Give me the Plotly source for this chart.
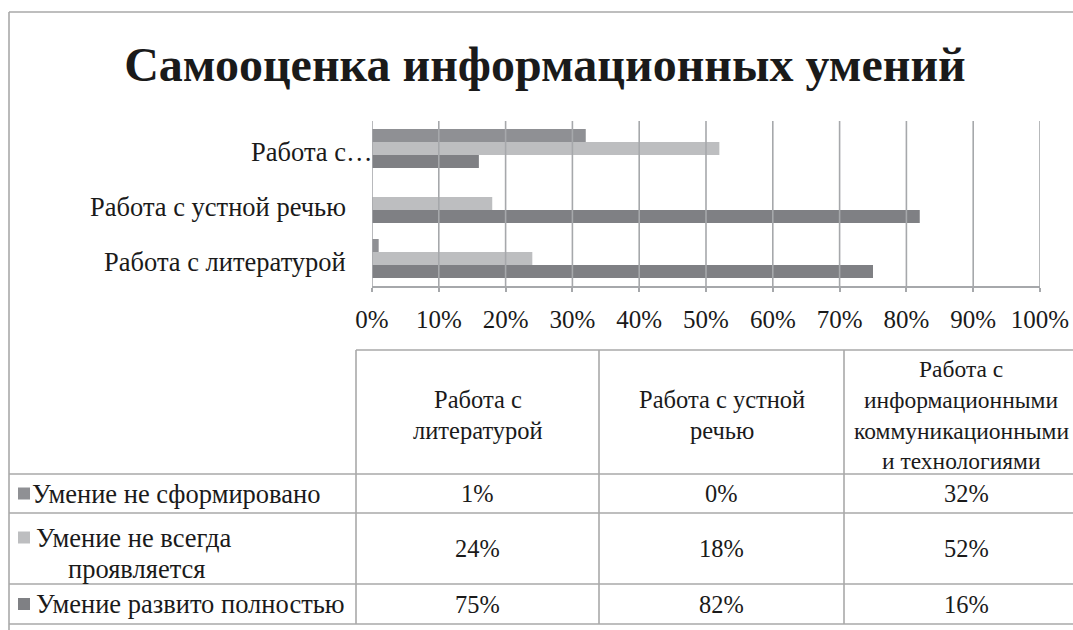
import plotly.graph_objects as go

W, H = 1073, 630

# ---- data ----
categories = ["Работа с литературой", "Работа с устной речью",
              "Работа с информационными коммуникационными и технологиями"]
axis_labels = ["Работа с литературой", "Работа с устной речью", "Работа с…"]
header_labels = [["Работа с", "литературой"], ["Работа с устной", "речью"],
                 ["Работа с", "информационными", "коммуникационными", "и технологиями"]]
series_names = ["Умение не сформировано", "Умение не всегда проявляется", "Умение развито полностью"]
not_formed = [1, 0, 32]
not_always = [24, 18, 52]
fully = [75, 82, 16]
x_ticks = [0, 10, 20, 30, 40, 50, 60, 70, 80, 90, 100]

colors = {"Умение не сформировано": "#8f9094",
          "Умение не всегда проявляется": "#bdbec0",
          "Умение развито полностью": "#7f8084"}
series_values = {"Умение не сформировано": not_formed,
                 "Умение не всегда проявляется": not_always,
                 "Умение развито полностью": fully}

FONT = "Liberation Serif"
GRID = "#a6a8ab"
LINE = "#a9a9a9"
TXT = "#1a1a1a"
LABEL_SIZE = 26.5
HDR_SIZE = 24.5
NUM_SIZE = 24.4
TICK_SIZE = 25


def X(px):
    return px / W


def Y(py):
    return 1 - py / H


fig = go.Figure()
# plotly stacks grouped horizontal bars bottom-up in trace order
for name in ["Умение развито полностью", "Умение не всегда проявляется", "Умение не сформировано"]:
    fig.add_trace(go.Bar(y=categories, x=series_values[name], orientation="h", name=name,
                         marker=dict(color=colors[name], line=dict(width=0)),
                         showlegend=False))

shapes = []
annotations = []

# vertical gridlines drawn above bars (as in the reference)
for v in x_ticks:
    shapes.append(dict(type="line", xref="x", yref="y domain", x0=v, x1=v, y0=0, y1=1,
                       line=dict(color=GRID, width=1.6), layer="above"))

# category labels
for i, lab in enumerate(axis_labels):
    xr = 374 if lab.endswith("…") else 348
    annotations.append(dict(xref="paper", yref="y", x=X(xr), y=categories[i], text=lab,
                            xanchor="right", yanchor="middle", showarrow=False,
                            font=dict(family=FONT, size=LABEL_SIZE, color=TXT), yshift=-3))

# outer chart border
shapes.append(dict(type="line", xref="paper", yref="paper", x0=X(9), x1=X(9), y0=Y(12), y1=0,
                   line=dict(color=LINE, width=1.6)))
shapes.append(dict(type="line", xref="paper", yref="paper", x0=X(9), x1=1, y0=Y(12), y1=Y(12),
                   line=dict(color=LINE, width=1.6)))

# data table grid
col_edges = [356, 599, 844, 1089]
row_edges = [350, 474, 513, 584, 624]
shapes.append(dict(type="line", xref="paper", yref="paper", x0=X(356), x1=1,
                   y0=Y(350), y1=Y(350), line=dict(color=LINE, width=1.6)))
for ry in row_edges[1:]:
    shapes.append(dict(type="line", xref="paper", yref="paper", x0=X(9), x1=1,
                       y0=Y(ry), y1=Y(ry), line=dict(color=LINE, width=1.6)))
for cx in col_edges:
    if cx < W:
        shapes.append(dict(type="line", xref="paper", yref="paper", x0=X(cx), x1=X(cx),
                           y0=Y(350), y1=Y(624), line=dict(color=LINE, width=1.6)))

# table headers
hdr_mid = (350 + 474) / 2 + 3
line_h = 31
for j, lines in enumerate(header_labels):
    cx = (col_edges[j] + col_edges[j + 1]) / 2
    if j == 2:
        cx = 961
    n = len(lines)
    for k, t in enumerate(lines):
        cy = hdr_mid + (k - (n - 1) / 2) * line_h
        annotations.append(dict(xref="paper", yref="paper", x=X(cx), y=Y(cy), text=t,
                                xanchor="center", yanchor="middle", showarrow=False,
                                font=dict(family=FONT, size=HDR_SIZE if j < 2 else 23.5, color=TXT)))

# table rows
row_series = ["Умение не сформировано", "Умение не всегда проявляется", "Умение развито полностью"]
for r, name in enumerate(row_series):
    top, bot = row_edges[r + 1], row_edges[r + 2]
    cy = (top + bot) / 2
    vals = series_values[name]
    for j, v in enumerate(vals):
        cx = (col_edges[j] + col_edges[j + 1]) / 2
        annotations.append(dict(xref="paper", yref="paper", x=X(cx), y=Y(cy), text=f"{v}%",
                                xanchor="center", yanchor="middle", showarrow=False,
                                font=dict(family=FONT, size=NUM_SIZE, color=TXT)))
    if r == 1:
        key_cy = cy - 11
        shapes.append(dict(type="rect", xref="paper", yref="paper", x0=X(18), x1=X(30),
                           y0=Y(key_cy - 6), y1=Y(key_cy + 6), fillcolor=colors[name],
                           line=dict(width=0)))
        annotations.append(dict(xref="paper", yref="paper", x=X(34), y=Y(key_cy), text="Умение не всегда",
                                xanchor="left", yanchor="middle", showarrow=False,
                                font=dict(family=FONT, size=LABEL_SIZE, color=TXT)))
        annotations.append(dict(xref="paper", yref="paper", x=X(66), y=Y(cy + 20), text="проявляется",
                                xanchor="left", yanchor="middle", showarrow=False,
                                font=dict(family=FONT, size=LABEL_SIZE, color=TXT)))
    else:
        shapes.append(dict(type="rect", xref="paper", yref="paper", x0=X(18), x1=X(30),
                           y0=Y(cy - 6), y1=Y(cy + 6), fillcolor=colors[name],
                           line=dict(width=0)))
        annotations.append(dict(xref="paper", yref="paper", x=X(30 if r == 0 else 34), y=Y(cy),
                                text=name, xanchor="left", yanchor="middle", showarrow=False,
                                font=dict(family=FONT, size=LABEL_SIZE, color=TXT)))

fig.update_layout(
    width=W, height=H,
    margin=dict(l=0, r=0, t=0, b=0, autoexpand=False),
    paper_bgcolor="white", plot_bgcolor="white",
    barmode="group", bargap=0.29, bargroupgap=0,
    title=dict(text="<b>Самооценка информационных умений</b>", x=X(545), y=Y(64),
               xanchor="center", yanchor="middle",
               font=dict(family=FONT, size=48, color=TXT)),
    xaxis=dict(domain=[X(372), X(1040)], range=[0, 100], tickvals=x_ticks,
               ticktext=[f"{v}%" for v in x_ticks], showgrid=False, zeroline=False,
               showline=True, linecolor=GRID, linewidth=1.6,
               ticks="outside", ticklen=4, tickcolor=GRID, tickwidth=1.6,
               ticklabelstandoff=6, automargin=False,
               tickfont=dict(family=FONT, size=TICK_SIZE, color=TXT), fixedrange=True),
    yaxis=dict(domain=[Y(286), Y(121)], showticklabels=False, showgrid=False, automargin=False,
               zeroline=False, showline=False, ticks="", fixedrange=True),
    shapes=shapes, annotations=annotations,
)

fig.write_html("out.html", config={"displayModeBar": False},
               post_script="document.body.style.margin='0';")
